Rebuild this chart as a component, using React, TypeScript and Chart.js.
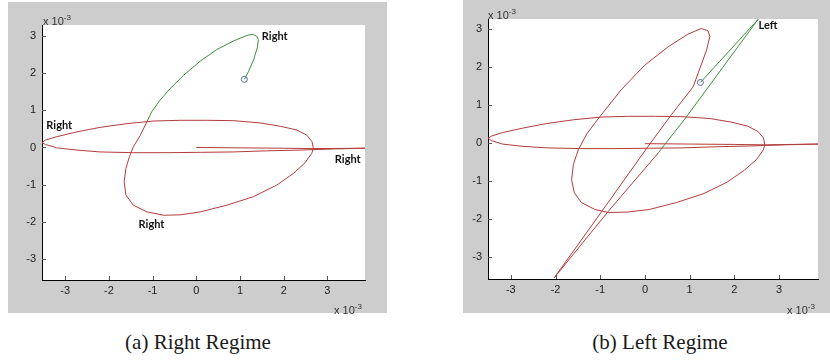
import React, { useEffect, useRef } from "react";
import { Chart, registerables } from "chart.js";
Chart.register(...registerables);

// ---- shared ticks (values in units of 1e-3) ----
const xTicks = [-3, -2, -1, 0, 1, 2, 3];
const yTicks = [-3, -2, -1, 0, 1, 2, 3];

// ---- panel (a): Right Regime ----
const aGreenX = [1.10, 1.19, 1.31, 1.40, 1.42, 1.38, 1.29, 1.16, 0.85, 0.47, 0.09, -0.29, -0.60, -0.83, -1.02, -1.13];
const aGreenY = [1.83, 2.03, 2.35, 2.70, 2.90, 2.99, 3.04, 3.01, 2.86, 2.63, 2.32, 1.94, 1.58, 1.27, 0.96, 0.69];
const aRedX = [-1.13, -1.28, -1.44, -1.53, -1.61, -1.65, -1.61, -1.44, -1.13, -0.75, -0.37, 0.09, 0.70, 1.31, 1.84, 2.22, 2.49, 2.64, 2.68, 2.65, 2.53, 2.30, 1.92, 1.46, 0.85, 0.24, -0.37, -0.98, -1.59, -2.20, -2.73, -3.19, -3.45, -3.53, -3.45, -3.19, -2.73, -2.20, -1.44, -0.67, 0.09, 0.85, 1.61, 2.37, 3.14, 3.86];
const aRedY = [0.69, 0.33, 0.02, -0.25, -0.56, -0.92, -1.28, -1.55, -1.73, -1.82, -1.81, -1.73, -1.55, -1.32, -1.01, -0.70, -0.41, -0.16, -0.03, 0.15, 0.33, 0.47, 0.57, 0.66, 0.72, 0.73, 0.73, 0.71, 0.64, 0.54, 0.42, 0.29, 0.20, 0.13, 0.08, -0.01, -0.07, -0.12, -0.14, -0.14, -0.13, -0.12, -0.09, -0.07, -0.04, -0.02];
const aTailX = [0.0, 1.0, 2.0, 2.68, 3.86];
const aTailY = [0.0, -0.01, -0.02, -0.03, -0.02];
const aStartX = [1.10];
const aStartY = [1.83];
const aLabels = ["Right", "Right", "Right", "Right"];
const aLabelX = [1.50, -3.43, 3.17, -1.32];
const aLabelY = [2.99, 0.60, -0.32, -2.06];

// ---- panel (b): Left Regime ----
const bGreenX = [1.24, 1.90, 2.53, 1.73, 0.93, 0.30];
const bGreenY = [1.60, 2.45, 3.26, 1.98, 0.70, -0.25];
const bRedX = [0.30, -0.82, -2.03, -0.94, 0.07, 0.59, 1.08, 1.38, 1.45, 1.41, 1.26, 0.96, 0.52, 0.0, -0.53, -1.01, -1.30, -1.49, -1.60, -1.64, -1.58, -1.42, -1.12, -0.82, -0.40, 0.10, 0.70, 1.30, 1.84, 2.22, 2.50, 2.65, 2.68, 2.65, 2.53, 2.30, 1.92, 1.46, 0.85, 0.24, -0.37, -0.98, -1.59, -2.20, -2.73, -3.19, -3.43, -3.51, -3.43, -3.19, -2.73, -2.20, -1.44, -0.67, 0.09, 0.85, 1.61, 2.37, 3.14, 3.87];
const bRedY = [-0.25, -1.79, -3.54, -1.75, -0.08, 0.75, 1.49, 2.46, 2.81, 2.96, 3.02, 2.87, 2.54, 2.06, 1.41, 0.70, 0.25, -0.17, -0.55, -0.96, -1.30, -1.56, -1.74, -1.82, -1.81, -1.74, -1.56, -1.33, -1.02, -0.71, -0.42, -0.17, -0.04, 0.14, 0.31, 0.45, 0.56, 0.65, 0.70, 0.71, 0.71, 0.69, 0.62, 0.52, 0.40, 0.28, 0.19, 0.13, 0.07, -0.02, -0.08, -0.12, -0.14, -0.14, -0.13, -0.12, -0.09, -0.07, -0.04, -0.02];
const bTailX = [0.0, 1.0, 2.0, 2.68, 3.87];
const bTailY = [-0.01, -0.02, -0.03, -0.04, -0.02];
const bStartX = [1.24];
const bStartY = [1.60];
const bLabels = ["Left"];
const bLabelX = [2.54];
const bLabelY = [3.09];

const RED = "#b43c3c";
const GREEN = "#3f8f3f";
const BLUE = "#5563b0";
const PANEL_GRAY = "#cdcdcd";

const pts = (xs: number[], ys: number[]) => xs.map((x, i) => ({ x, y: ys[i] }));

type PanelProps = {
  left: number; top: number; width: number; height: number;
  plot: { l: number; t: number; r: number; b: number };
  xRange: [number, number]; yRange: [number, number];
  greenX: number[]; greenY: number[];
  redX: number[]; redY: number[];
  tailX: number[]; tailY: number[];
  startX: number[]; startY: number[];
  labels: string[]; labelX: number[]; labelY: number[];
};

function Panel(p: PanelProps) {
  const ref = useRef<HTMLCanvasElement>(null);
  useEffect(() => {
    const canvas = ref.current!;
    const deco = {
      id: "deco",
      beforeDraw(chart: any) {
        const { ctx, chartArea: a } = chart;
        ctx.save();
        ctx.fillStyle = "#ffffff";
        ctx.fillRect(a.left, a.top, a.right - a.left, a.bottom - a.top);
        ctx.restore();
      },
      afterDraw(chart: any) {
        const { ctx, chartArea: a, scales } = chart;
        ctx.save();
        ctx.strokeStyle = "#555";
        ctx.lineWidth = 1;
        ctx.beginPath();
        xTicks.forEach((v) => {
          const px = Math.round(scales.x.getPixelForValue(v)) + 0.5;
          ctx.moveTo(px, a.bottom);
          ctx.lineTo(px, a.bottom - 4);
        });
        yTicks.forEach((v) => {
          const py = Math.round(scales.y.getPixelForValue(v)) + 0.5;
          ctx.moveTo(a.left, py);
          ctx.lineTo(a.left + 4, py);
        });
        ctx.stroke();
        ctx.fillStyle = "#111";
        ctx.font = "bold 11px Lato, 'Open Sans', sans-serif";
        ctx.textBaseline = "middle";
        ctx.textAlign = "left";
        p.labels.forEach((t, i) => {
          ctx.fillText(t, scales.x.getPixelForValue(p.labelX[i]), scales.y.getPixelForValue(p.labelY[i]));
        });
        ctx.restore();
      },
    };
    const tickFont = { family: "'Liberation Sans', Arial, sans-serif", size: 11 };
    const chart = new Chart(canvas, {
      type: "scatter",
      data: {
        datasets: [
          { data: pts(p.tailX, p.tailY), showLine: true, borderColor: RED, borderWidth: 1, pointRadius: 0 },
          { data: pts(p.redX, p.redY), showLine: true, borderColor: RED, borderWidth: 1, pointRadius: 0 },
          { data: pts(p.greenX, p.greenY), showLine: true, borderColor: GREEN, borderWidth: 1, pointRadius: 0 },
          { data: pts(p.startX, p.startY), showLine: false, pointRadius: 3, pointBorderWidth: 1, pointBorderColor: BLUE, pointBackgroundColor: "rgba(0,0,0,0)" },
        ],
      } as any,
      options: {
        animation: false,
        responsive: false,
        maintainAspectRatio: false,
        devicePixelRatio: 1,
        events: [],
        layout: { padding: { left: 0, top: p.plot.t, right: p.width - p.plot.r, bottom: 0 } },
        plugins: { legend: { display: false }, tooltip: { enabled: false } },
        scales: {
          x: {
            type: "linear", min: p.xRange[0], max: p.xRange[1],
            afterBuildTicks: (s: any) => { s.ticks = xTicks.map((v) => ({ value: v })); },
            afterFit: (s: any) => { s.height = p.height - p.plot.b; },
            grid: { drawOnChartArea: false, drawTicks: false },
            border: { display: true, color: "#000", width: 1 },
            ticks: { padding: 4, color: "#222", font: tickFont, maxRotation: 0, autoSkip: false, callback: (v: any) => String(v) },
          },
          y: {
            type: "linear", min: p.yRange[0], max: p.yRange[1],
            afterBuildTicks: (s: any) => { s.ticks = yTicks.map((v) => ({ value: v })); },
            afterFit: (s: any) => { s.width = p.plot.l; },
            grid: { drawOnChartArea: false, drawTicks: false },
            border: { display: true, color: "#000", width: 1 },
            ticks: { padding: 6, color: "#222", font: tickFont, autoSkip: false, callback: (v: any) => String(v) },
          },
        },
      } as any,
      plugins: [deco],
    });
    return () => chart.destroy();
  }, []);
  return (
    <canvas
      ref={ref}
      width={p.width}
      height={p.height}
      style={{ position: "absolute", left: p.left, top: p.top, width: p.width, height: p.height, background: PANEL_GRAY }}
    />
  );
}

const mult: React.CSSProperties = {
  position: "absolute", fontFamily: "'Liberation Sans', Arial, sans-serif", fontSize: 11, color: "#333", lineHeight: "11px", whiteSpace: "nowrap",
};
const supS: React.CSSProperties = { fontSize: 8, verticalAlign: "5px" };
const caption: React.CSSProperties = {
  position: "absolute", fontFamily: "'Liberation Serif', serif", fontSize: 21, color: "#1a1a1a", whiteSpace: "nowrap", transform: "translateX(-50%)", lineHeight: "24px",
};

export default function App() {
  return (
    <div style={{ position: "fixed", left: 0, top: 0, width: 830, height: 362, background: "#fff", overflow: "hidden" }}>
      <Panel
        left={8} top={2} width={379} height={311}
        plot={{ l: 34, t: 23, r: 357, b: 278 }}
        xRange={[-3.53, 3.86]} yRange={[-3.56, 3.29]}
        greenX={aGreenX} greenY={aGreenY} redX={aRedX} redY={aRedY}
        tailX={aTailX} tailY={aTailY} startX={aStartX} startY={aStartY}
        labels={aLabels} labelX={aLabelX} labelY={aLabelY}
      />
      <Panel
        left={463} top={0} width={367} height={313}
        plot={{ l: 25, t: 19, r: 355, b: 279 }}
        xRange={[-3.51, 3.87]} yRange={[-3.57, 3.27]}
        greenX={bGreenX} greenY={bGreenY} redX={bRedX} redY={bRedY}
        tailX={bTailX} tailY={bTailY} startX={bStartX} startY={bStartY}
        labels={bLabels} labelX={bLabelX} labelY={bLabelY}
      />
      <div style={{ ...mult, left: 43, top: 12 }}>x 10<sup style={supS}>-3</sup></div>
      <div style={{ ...mult, left: 334, top: 301 }}>x 10<sup style={supS}>-3</sup></div>
      <div style={{ ...mult, left: 488, top: 6 }}>x 10<sup style={supS}>-3</sup></div>
      <div style={{ ...mult, left: 787, top: 301 }}>x 10<sup style={supS}>-3</sup></div>
      <div style={{ ...caption, left: 198, top: 330 }}>(a) Right Regime</div>
      <div style={{ ...caption, left: 660, top: 330 }}>(b) Left Regime</div>
    </div>
  );
}
